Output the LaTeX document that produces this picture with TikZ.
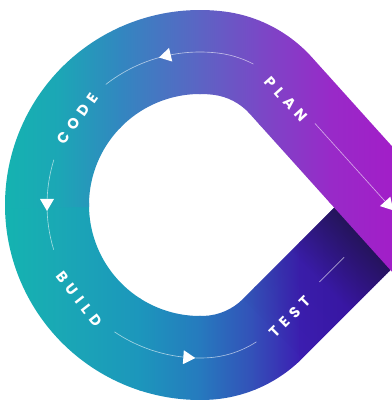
\documentclass[tikz,border=0pt]{standalone}
\usepackage{fontspec}
\usepackage{tikz}
\usetikzlibrary{calc, fadings}
\newfontfamily\stagefont{Poppins}[LetterSpace=38]

% band colours, left to right
\definecolor{teal0}{RGB}{20,180,176}
\definecolor{up1}{RGB}{28,166,182}
\definecolor{up2}{RGB}{50,135,192}
\definecolor{up3}{RGB}{92,100,196}
\definecolor{up4}{RGB}{122,72,198}
\definecolor{up5}{RGB}{152,42,200}
\definecolor{up6}{RGB}{162,30,200}
\definecolor{lo1}{RGB}{26,168,181}
\definecolor{lo2}{RGB}{28,150,188}
\definecolor{lo3}{RGB}{38,122,190}
\definecolor{lo4}{RGB}{52,78,184}
\definecolor{lo5}{RGB}{60,30,178}
\definecolor{lo6}{RGB}{58,16,168}
\definecolor{endshade}{RGB}{32,20,72}
\tikzfading[name=endshadow, left color=transparent!100, right color=transparent!0, middle color=transparent!90]

\begin{document}
\begin{tikzpicture}[
    x=0.025cm, y=0.025cm,
    stage/.style={text=white, font=\stagefont\bfseries\fontsize{10.5}{12}\selectfont, inner sep=0pt},
    guide/.style={white, opacity=0.6, line width=0.45pt},
    flowtip/.pic={\fill[white] (6,0) -- (-6,7) -- (-6,-7) -- cycle;}
  ]
  \useasboundingbox (0,0) rectangle (392,410);
  \clip (0,0) rectangle (392,410);

  \coordinate (loop) at (200,205);
  \coordinate (bendtop) at ($(loop)+(83:53)$);
  \coordinate (bendbot) at ($(loop)+(272.1:53)$);
  \coordinate (planline) at ($(bendtop)+(42:100)$);
  \coordinate (testline) at ($(bendbot)+(-45:100)$);

  % lower half of the loop, running out under the upper one
  \begin{scope}
    \clip ($(loop)+(179:195)$) arc[start angle=179, end angle=272.1, radius=195]
      arc[start angle=272.1, end angle=315, radius=142] -- ++(45:170) -- ++(135:84) -- ++(225:170)
      arc[start angle=315, end angle=272.1, radius=58] arc[start angle=272.1, end angle=179, radius=111] -- cycle;
    \foreach \xa/\xb/\ca/\cb in {0/60/teal0/lo1, 60/140/lo1/lo2, 140/200/lo2/lo3, 200/255/lo3/lo4, 255/300/lo4/lo5, 300/392/lo5/lo6}
      \shade[left color=\ca, right color=\cb] (\xa-0.6,0) rectangle (\xb+0.6,410);
    \fill[endshade, path fading=endshadow, fading angle=45] ($(bendbot)+(-45:58)$) -- ($(bendbot)+(-45:142)$)
      -- ++(45:134) -- ++(135:84) -- cycle;
  \end{scope}

  % upper half of the loop
  \begin{scope}
    \clip ($(loop)+(181:195)$) arc[start angle=181, end angle=83, radius=195]
      arc[start angle=83, end angle=42, radius=142] -- ++(-48:250) -- ++(222:84) -- ++(132:250)
      arc[start angle=42, end angle=83, radius=58] arc[start angle=83, end angle=181, radius=111] -- cycle;
    \foreach \xa/\xb/\ca/\cb in {0/60/teal0/up1, 60/120/up1/up2, 120/200/up2/up3, 200/260/up3/up4, 260/330/up4/up5, 330/392/up5/up6}
      \shade[left color=\ca, right color=\cb] (\xa-0.6,0) rectangle (\xb+0.6,410);
  \end{scope}

  % guide lines
  \draw[guide] ($(bendtop)+(62:100)$) arc[start angle=62, end angle=83, radius=100] arc[start angle=83, end angle=128, radius=153];
  \draw[guide] ($(loop)+(162.8:153)$) arc[start angle=162.8, end angle=197, radius=153];
  \draw[guide] ($(loop)+(236:153)$) arc[start angle=236, end angle=272.1, radius=153] arc[start angle=272.1, end angle=303, radius=100];
  \draw[guide] ($(testline)+(45:66)$) -- ($(testline)+(45:101)$);
  \draw[guide] ($(planline)+(-48:51)$) -- ($(planline)+(-48:160)$);

  \pic[rotate=193.3] at ($(loop)+(103.3:153)$) {flowtip};
  \pic[rotate=270] at ($(loop)+(180:153)$) {flowtip};
  \pic[rotate=356] at ($(loop)+(266:153)$) {flowtip};
  \pic[rotate=-48] at ($(planline)+(-48:162)$) {flowtip};

  % stage names
  \node[stage, rotate=54.7] (code) at ($(loop)+(144.7:150)$) {CODE};
  \node[stage, rotate=-52] (build) at ($(loop)+(218:153)$) {BUILD};
  \node[stage, rotate=45] (test) at (290,93) {TEST};
  \node[stage, rotate=-48] (plan) at (286,311) {PLAN};
\end{tikzpicture}
\end{document}
